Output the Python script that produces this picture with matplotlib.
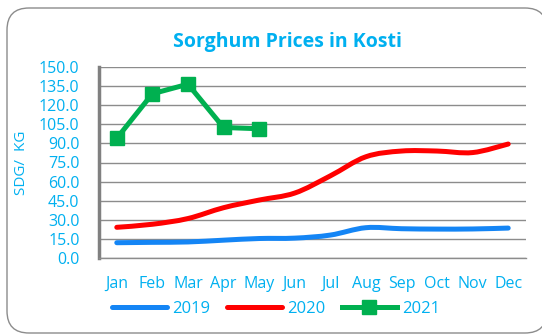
import matplotlib
matplotlib.use("Agg")
import matplotlib.pyplot as plt
from matplotlib.path import Path
from matplotlib.patches import PathPatch, FancyBboxPatch
from matplotlib.lines import Line2D
import numpy as np

months = ["Jan", "Feb", "Mar", "Apr", "May", "Jun", "Jul", "Aug", "Sep", "Oct", "Nov", "Dec"]
prices_2019 = [12.0, 12.3, 12.6, 14.0, 15.3, 15.6, 18.0, 23.8, 23.0, 22.7, 22.8, 23.5]
prices_2020 = [24.1, 26.5, 31.0, 39.5, 45.5, 51.0, 64.5, 79.5, 84.0, 84.0, 82.8, 89.5]
prices_2021 = [94.0, 129.0, 136.5, 102.5, 101.5]
y_ticks = [0, 15, 30, 45, 60, 75, 90, 105, 120, 135, 150]

CYAN = "#00B0F0"
BLUE = "#1485F5"
RED = "#FF0000"
GREEN = "#00B050"
FONT = "Open Sans"
LW = 3.6


def smooth_path(xs, ys):
    """Catmull-Rom style smoothed path through the points, as cubic Beziers."""
    pts = np.column_stack([xs, ys]).astype(float)
    n = len(pts)
    verts = [pts[0]]
    codes = [Path.MOVETO]
    for i in range(n - 1):
        p0 = pts[i - 1] if i > 0 else pts[i]
        p1 = pts[i]
        p2 = pts[i + 1]
        p3 = pts[i + 2] if i + 2 < n else pts[i + 1]
        c1 = p1 + (p2 - p0) / 6.0
        c2 = p2 - (p3 - p1) / 6.0
        verts += [c1, c2, p2]
        codes += [Path.CURVE4] * 3
    return Path(verts, codes)


W, H = 542, 334
fig = plt.figure(figsize=(W / 100, H / 100), dpi=100)

# rounded chart frame, laid out in pixel units on a background axes
bg = fig.add_axes([0, 0, 1, 1], zorder=-1)
bg.set_xlim(0, W)
bg.set_ylim(H, 0)
bg.axis("off")
bg.add_patch(FancyBboxPatch((7, 8), 540, 325,
                            boxstyle="round,pad=0,rounding_size=22",
                            facecolor="white", edgecolor="#8C8C8C", linewidth=1.0))

ax = fig.add_axes([99 / W, 1 - 258 / H, 427 / W, 191 / H])
ax.set_facecolor("none")

x = np.arange(len(months))
ax.add_patch(PathPatch(smooth_path(x, prices_2019), facecolor="none",
                       edgecolor=BLUE, linewidth=LW, capstyle="round", zorder=3))
ax.add_patch(PathPatch(smooth_path(x, prices_2020), facecolor="none",
                       edgecolor=RED, linewidth=LW, capstyle="round", zorder=3))
ax.plot(x[:len(prices_2021)], prices_2021, color=GREEN, linewidth=LW,
        marker="s", markersize=10, zorder=4)

ax.set_xlim(-0.5, 11.5)
ax.set_ylim(0, 150)
ax.set_yticks(y_ticks)
ax.set_yticklabels([f"{v:.1f}" for v in y_ticks])
ax.set_xticks(x)
ax.set_xticklabels(months)
ax.grid(axis="y", color="#8C8C8C", linewidth=1.0)
ax.set_axisbelow(True)
for s in ("top", "right"):
    ax.spines[s].set_visible(False)
ax.spines["left"].set_color("#808080")
ax.spines["left"].set_linewidth(2.5)
ax.spines["bottom"].set_color("#8C8C8C")
ax.spines["bottom"].set_linewidth(1.0)
ax.tick_params(axis="both", length=0, labelcolor=CYAN, labelsize=11.5)
ax.tick_params(axis="y", pad=14)
ax.tick_params(axis="x", pad=13)
for lab in ax.get_xticklabels() + ax.get_yticklabels():
    lab.set_fontfamily(FONT)

ax.set_ylabel("SDG/  KG", color=CYAN, fontsize=11, fontfamily=FONT, labelpad=7)

fig.text(287 / W, 1 - 42 / H, "Sorghum Prices in Kosti", color=CYAN,
         fontsize=14, fontweight="bold", fontfamily=FONT, ha="center", va="center")

handles = [
    Line2D([], [], color=BLUE, linewidth=LW, solid_capstyle="round"),
    Line2D([], [], color=RED, linewidth=LW, solid_capstyle="round"),
    Line2D([], [], color=GREEN, linewidth=LW, marker="s", markersize=10),
]
leg = fig.legend(handles, ["2019", "2020", "2021"], loc="center",
                 bbox_to_anchor=(276 / W, 1 - 309 / H), ncol=3, frameon=False,
                 handlelength=3.3, handletextpad=0.3, columnspacing=1.0,
                 prop={"family": FONT, "size": 12})
for t in leg.get_texts():
    t.set_color(CYAN)

fig.savefig("out.png", dpi=100)
